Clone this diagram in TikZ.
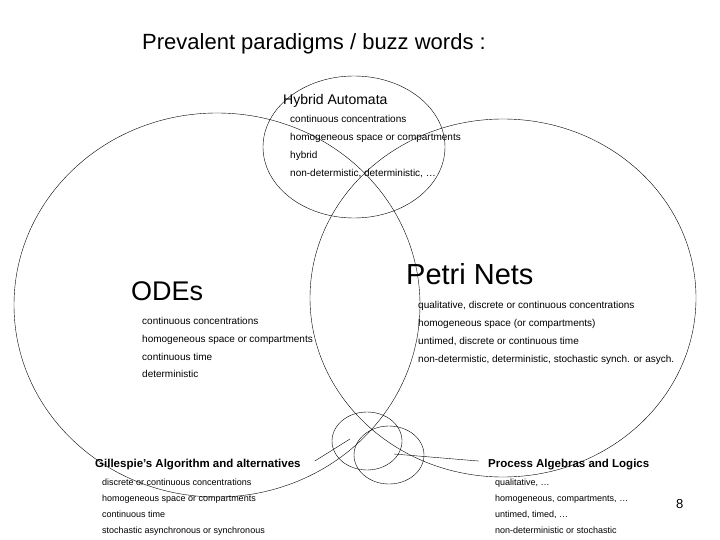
\documentclass[tikz,border=0pt]{standalone}
\usepackage{fontspec}
\setmainfont{Liberation Sans}
\begin{document}
\begin{tikzpicture}[x=1pt,y=-1pt,
  lbl/.style={anchor=base west,inner sep=0pt},
  item/.style={lbl,font=\fontsize{10}{12}\selectfont},
  sitem/.style={lbl,font=\fontsize{9}{11}\selectfont},
  ring/.style={draw,thin}]
\useasboundingbox (0,0) rectangle (720,540);
\fill[white] (0,0) rectangle (720,540);
% ellipses
\draw[ring] (217,305) ellipse [x radius=203,y radius=192];
\draw[ring] (503,298) ellipse [x radius=193,y radius=179];
\draw[ring] (354,147) ellipse [x radius=91,y radius=71];
\draw[ring] (367,441) ellipse [x radius=35,y radius=29];
\draw[ring] (389,455) ellipse [x radius=35,y radius=29];
% title
\node[lbl,font=\fontsize{22}{26}\selectfont] (title) at (142,50) {Prevalent paradigms / buzz words :};
% Hybrid
\node[lbl,font=\fontsize{14}{16}\selectfont] (ha) at (283,105) {Hybrid Automata};
\node[item] (ha1) at (290,123) {continuous concentrations};
\node[item] (ha2) at (290,141) {homogeneous space or compartments};
\node[item] (ha3) at (290,159) {hybrid};
\node[item] (ha4) at (290,177) {non-determistic, deterministic, \dots};
% ODEs
\node[lbl,font=\fontsize{27}{30}\selectfont] (ode) at (131,300) {ODEs};
\node[item] (o1) at (142,324) {continuous concentrations};
\node[item] (o2) at (142,342) {homogeneous space or compartments};
\node[item] (o3) at (142,360) {continuous time};
\node[item] (o4) at (142,377) {deterministic};
% Petri
\node[lbl,font=\fontsize{29}{32}\selectfont] (pn) at (406,284) {Petri Nets};
\node[item] (p1) at (418,308) {qualitative, discrete or continuous concentrations};
\node[item] (p2) at (418,326) {homogeneous space (or compartments)};
\node[item] (p3) at (418,344) {untimed, discrete or continuous time};
\node[item] (p4) at (418,362) {non-determistic, deterministic, stochastic synch. or asych.};
% Gillespie
\node[lbl,font=\fontsize{11.5}{14}\bfseries\selectfont] (gi) at (95,467) {Gillespie's Algorithm and alternatives};
\node[sitem] (g1) at (102,485) {discrete or continuous concentrations};
\node[sitem] (g2) at (102,501) {homogeneous space or compartments};
\node[sitem] (g3) at (102,517) {continuous time};
\node[sitem] (g4) at (102,533) {stochastic asynchronous or synchronous};
% Process
\node[lbl,font=\fontsize{11.5}{14}\bfseries\selectfont] (pa) at (488,467) {Process Algebras and Logics};
\node[sitem] (q1) at (495,485) {qualitative, \dots};
\node[sitem] (q2) at (495,501) {homogeneous, compartments, \dots};
\node[sitem] (q3) at (495,517) {untimed, timed, \dots};
\node[sitem] (q4) at (495,533) {non-deterministic or stochastic};
\node[lbl,font=\fontsize{13}{15}\selectfont] (pg) at (676,508) {8};
% connectors
\coordinate (ge) at (350,439);
\coordinate (pe) at (394,454);
\draw (gi.east) ++(14,-3) -- (ge);
\draw (pa.west) ++(-9,-3) -- (pe);
\end{tikzpicture}
\end{document}
